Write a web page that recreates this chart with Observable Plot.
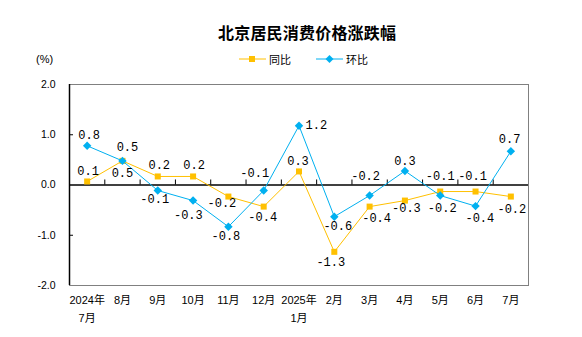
<!DOCTYPE html>
<html><head><meta charset="utf-8">
<script src="https://cdn.jsdelivr.net/npm/d3@7"></script>
<script src="https://cdn.jsdelivr.net/npm/@observablehq/plot@0.6"></script>
<style>
body{margin:0;background:#fff;}
#wrap{position:relative;width:582px;height:337px;overflow:hidden;font-family:"Noto Sans CJK SC","Liberation Sans",sans-serif;color:#000;}
#title{position:absolute;left:218px;top:22px;font-size:16px;letter-spacing:0.2px;font-weight:bold;line-height:20px;white-space:nowrap;}
#unit{position:absolute;left:36px;top:51px;font-size:11px;line-height:16px;font-family:"Liberation Sans","Noto Sans CJK SC",sans-serif;}
.leg{position:absolute;top:52px;height:14px;display:flex;align-items:center;font-size:11px;white-space:nowrap;}
.leg span{margin-left:3px;}
#chart{position:absolute;left:0;top:70px;}
</style></head>
<body>
<div id="wrap">
  <div id="title">北京居民消费价格涨跌幅</div>
  <div id="unit">(%)</div>
  <div class="leg" style="left:239px"><svg width="27" height="10"><line x1="0" y1="5" x2="27" y2="5" stroke="#FFC000" stroke-width="1"/><rect x="10" y="2" width="6" height="6" fill="#FFC000"/></svg><span>同比</span></div>
  <div class="leg" style="left:316px"><svg width="27" height="10"><line x1="0" y1="5" x2="27" y2="5" stroke="#00B0F0" stroke-width="1"/><path d="M13.5,1L17.5,5L13.5,9L9.5,5Z" fill="#00B0F0"/></svg><span>环比</span></div>
  <div id="chart"></div>
</div>
<script>
const monthsLine1 = ["2024年","8月","9月","10月","11月","12月","2025年","2月","3月","4月","5月","6月","7月"];
const monthsLine2 = ["7月","","","","","","1月","","","","","",""];
const yoy = [0.07, 0.48, 0.17, 0.17, -0.23, -0.43, 0.27, -1.33, -0.43, -0.31, -0.13, -0.13, -0.23];
const mom = [0.78, 0.48, -0.11, -0.31, -0.83, -0.11, 1.18, -0.63, -0.21, 0.28, -0.21, -0.42, 0.67];
const yTicks = [-2, -1, 0, 1, 2];

// label placement offsets (dx, dy) in pixels
const yoyLabelOffset = [[1,-10],[0,12.5],[1.5,-11],[1,-11],[-6.5,7],[-1,11],[-1,-10],[-3.5,10],[7,12],[1.5,8],[0,-15],[-3,-15],[1,13]];
const momLabelOffset = [[2,-10.6],[5,-14],[-3,9],[-4.7,14.7],[-2.5,9.5],[-9,-17],[17.4,-0.7],[3.5,9],[-4,-19],[0,-9.5],[2,13],[4.3,12.4],[-1.3,-12]];

const idx = d3.range(monthsLine1.length);
const YOY = "#FFC000", MOM = "#00B0F0";

const labelMarks = (vals, off) => vals.map((v, i) => Plot.text([i], {
  x: d => d, y: d => vals[d], text: d => vals[d].toFixed(1),
  dx: off[i][0], dy: off[i][1],
  fontFamily: "Liberation Mono", fontSize: 12, fill: "#000"
}));

const chart = Plot.plot({
  width: 582, height: 267,
  marginTop: 14, marginBottom: 52, marginLeft: 69, marginRight: 54,
  x: {domain: [-0.5, idx.length - 0.5], axis: null},
  y: {domain: [-2, 2]},
  style: {fontFamily: "Liberation Sans, Noto Sans CJK SC, sans-serif", fontSize: "11px", color: "#000", background: "#fff"},
  marks: [
    Plot.frame({stroke: "#808080"}),
    Plot.ruleX([-0.5], {stroke: "#000", strokeWidth: 1.5}),
    Plot.ruleY([0], {stroke: "#000", strokeWidth: 1.5}),
    Plot.ruleY([-1, 1], {stroke: "#000", insetRight: 455}),
    Plot.ruleX(d3.range(0.5, idx.length - 1, 1), {y1: 0, y2: 0.1, stroke: "#000"}),
    Plot.axisY({ticks: yTicks, tickSize: 0, tickPadding: 14, tickFormat: d => d.toFixed(1), label: null, fontSize: 10.5, fill: "#000"}),
    Plot.text(idx, {x: d => d, y: -2, text: d => monthsLine1[d], dy: 15, fontSize: 11, fill: "#000"}),
    Plot.text(idx, {x: d => d, y: -2, text: d => monthsLine2[d], dy: 33, fontSize: 11, fill: "#000"}),
    Plot.line(idx, {x: d => d, y: d => yoy[d], stroke: YOY, strokeWidth: 1}),
    Plot.dot(idx, {x: d => d, y: d => yoy[d], symbol: "square", r: 3.4, fill: YOY, stroke: null}),
    Plot.line(idx, {x: d => d, y: d => mom[d], stroke: MOM, strokeWidth: 1}),
    Plot.dot(idx, {x: d => d, y: d => mom[d], symbol: "diamond2", r: 3.8, fill: MOM, stroke: null}),
    ...labelMarks(yoy, yoyLabelOffset),
    ...labelMarks(mom, momLabelOffset)
  ]
});
document.getElementById("chart").appendChild(chart);
</script>
</body></html>
